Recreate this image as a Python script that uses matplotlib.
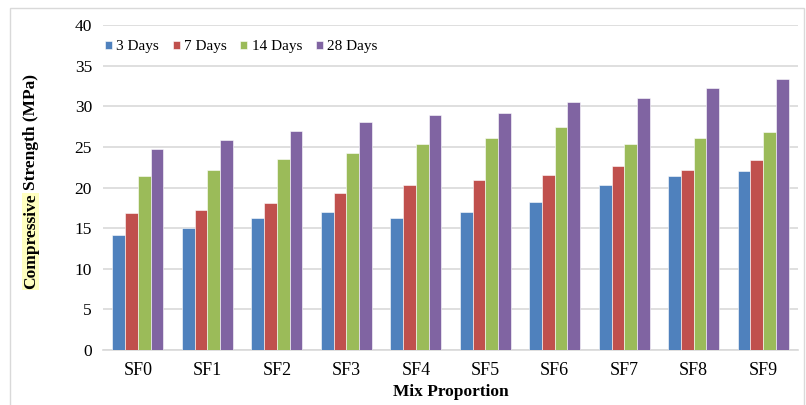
import matplotlib
matplotlib.use("Agg")
import matplotlib.pyplot as plt
import numpy as np
from matplotlib.patches import Rectangle

plt.rcParams['font.family'] = ['Liberation Serif', 'DejaVu Serif']

# data
mixes = ['SF0', 'SF1', 'SF2', 'SF3', 'SF4', 'SF5', 'SF6', 'SF7', 'SF8', 'SF9']
days_labels = ['3 Days', '7 Days', '14 Days', '28 Days']
days3 = [14.1, 15.0, 16.2, 17.0, 16.2, 17.0, 18.2, 20.3, 21.4, 22.0]
days7 = [16.9, 17.2, 18.1, 19.3, 20.3, 20.9, 21.5, 22.7, 22.2, 23.4]
days14 = [21.4, 22.1, 23.5, 24.3, 25.4, 26.1, 27.4, 25.4, 26.1, 26.8]
days28 = [24.7, 25.9, 27.0, 28.1, 28.9, 29.2, 30.5, 31.0, 32.2, 33.4]
colors = ['#4F81BD', '#C0504D', '#9BBB59', '#8064A2']

fig = plt.figure(figsize=(8.06, 4.05), dpi=100)
ax = fig.add_axes([0.128, 0.136, 0.862, 0.802])

x = np.arange(len(mixes))
w = 0.183
series = [days3, days7, days14, days28]
for i, (vals, lab, c) in enumerate(zip(series, days_labels, colors)):
    ax.bar(x + (i - 1.5) * w, vals, width=w, color=c, label=lab,
           edgecolor='white', linewidth=0.4, zorder=3)

ax.set_xlim(-0.5, len(mixes) - 0.5)
ax.set_ylim(0, 40)
ax.set_yticks(range(0, 41, 5))
ax.set_xticks(x)
ax.set_xticklabels(mixes, fontsize=13)
ax.tick_params(axis='y', labelsize=12.5, length=0, pad=8)
ax.tick_params(axis='x', length=0, pad=9)
ax.grid(axis='y', color='#d9d9d9', linewidth=1.2, zorder=0)
for s in ['top', 'right', 'left']:
    ax.spines[s].set_visible(False)
ax.spines['bottom'].set_color('#d9d9d9')
ax.spines['bottom'].set_linewidth(1.2)

ax.set_xlabel('Mix Proportion', fontsize=12.5, fontweight='bold', labelpad=3)

# y label with the highlighted first word
fig.text(0.038, 0.522, 'Compressive', rotation=90, ha='center', va='top',
         fontsize=12.5, fontweight='bold',
         bbox=dict(facecolor='#ffffc0', edgecolor='none', pad=0.5))
fig.text(0.038, 0.532, 'Strength (MPa)', rotation=90, ha='center', va='bottom',
         fontsize=12.5, fontweight='bold')

ax.legend(loc='upper left', bbox_to_anchor=(-0.017, 0.995), ncol=4, frameon=False,
          fontsize=11, handlelength=0.46, handleheight=0.46, handletextpad=0.27,
          columnspacing=0.9)

# light outer border
fig.patches.append(Rectangle((0.013, -0.01), 0.985, 0.99, transform=fig.transFigure,
                             fill=False, edgecolor='#d9d9d9', linewidth=1))

fig.savefig('out.png', dpi=100)
